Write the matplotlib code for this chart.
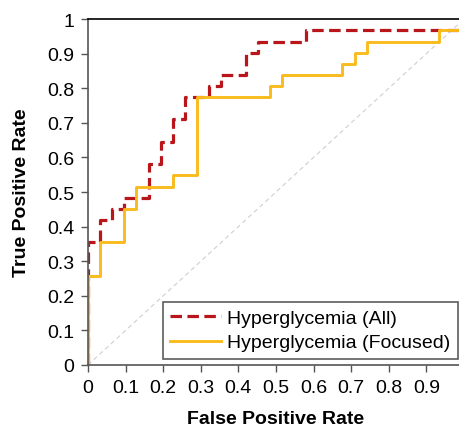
import numpy as np
import matplotlib.pyplot as plt

plt.rcParams['font.family'] = ['Liberation Sans', 'DejaVu Sans']

# ROC step points
fpr_all = [0, 0, 0.032, 0.032, 0.065, 0.065, 0.097, 0.097, 0.161, 0.161,
           0.194, 0.194, 0.226, 0.226, 0.258, 0.258, 0.323, 0.323, 0.355, 0.355,
           0.419, 0.419, 0.452, 0.452, 0.581, 0.581, 1.0, 1.0]
tpr_all = [0, 0.355, 0.355, 0.419, 0.419, 0.452, 0.452, 0.484, 0.484, 0.581,
           0.581, 0.645, 0.645, 0.710, 0.710, 0.774, 0.774, 0.806, 0.806, 0.839,
           0.839, 0.903, 0.903, 0.935, 0.935, 0.968, 0.968, 1.0]

fpr_foc = [0, 0, 0.032, 0.032, 0.097, 0.097, 0.129, 0.129, 0.226, 0.226,
           0.290, 0.290, 0.484, 0.484, 0.516, 0.516, 0.677, 0.677, 0.710, 0.710,
           0.742, 0.742, 0.935, 0.935, 1.0, 1.0]
tpr_foc = [0, 0.258, 0.258, 0.355, 0.355, 0.452, 0.452, 0.516, 0.516, 0.548,
           0.548, 0.774, 0.774, 0.806, 0.806, 0.839, 0.839, 0.871, 0.871, 0.903,
           0.903, 0.935, 0.935, 0.968, 0.968, 1.0]

ticks = [0, 0.1, 0.2, 0.3, 0.4, 0.5, 0.6, 0.7, 0.8, 0.9, 1]
y_labels = ['0', '0.1', '0.2', '0.3', '0.4', '0.5', '0.6', '0.7', '0.8', '0.9', '1']
# the "1" on the x axis falls outside the picture in the original
x_labels = ['0', '0.1', '0.2', '0.3', '0.4', '0.5', '0.6', '0.7', '0.8', '0.9', '']

fig = plt.figure(figsize=(4.59, 4.27), dpi=100)
ax = fig.add_axes([0.1917, 0.1429, 0.819, 0.810])

# chance line
ax.plot([0, 1], [0, 1], color='#cfcfcf', linestyle=(0, (4, 3)), linewidth=0.8)

ax.plot(fpr_all, tpr_all, color='#b8161b', linestyle=(0, (3.6, 1.7)),
        linewidth=2.3, label='Hyperglycemia (All)')
ax.plot(fpr_foc, tpr_foc, color='#f9bb1d', linewidth=2.1,
        label='Hyperglycemia (Focused)')

ax.set_xlim(0, 1)
ax.set_ylim(0, 1)
ax.set_xticks(ticks)
ax.set_xticklabels(x_labels)
ax.set_yticks(ticks)
ax.set_yticklabels(y_labels)
ax.tick_params(labelsize=14, direction='out', length=5, width=1,
               color='#555555', pad=5)
for s in ax.spines.values():
    s.set_linewidth(1.2)
ax.spines['left'].set_color('#555555')
ax.spines['bottom'].set_color('#555555')

ax.set_xlabel('False Positive Rate', fontsize=14, fontweight='bold', labelpad=10)
ax.set_ylabel('True Positive Rate', fontsize=14, fontweight='bold', labelpad=12)

leg = ax.legend(loc='lower right', bbox_to_anchor=(0.984, 0.017), fontsize=14,
                frameon=True, fancybox=False, edgecolor='#333333',
                handlelength=2.6, handletextpad=0.3, borderpad=0.4,
                borderaxespad=0, labelspacing=0.35)
leg.get_frame().set_linewidth(1.2)

plt.savefig('out.png', dpi=100)
